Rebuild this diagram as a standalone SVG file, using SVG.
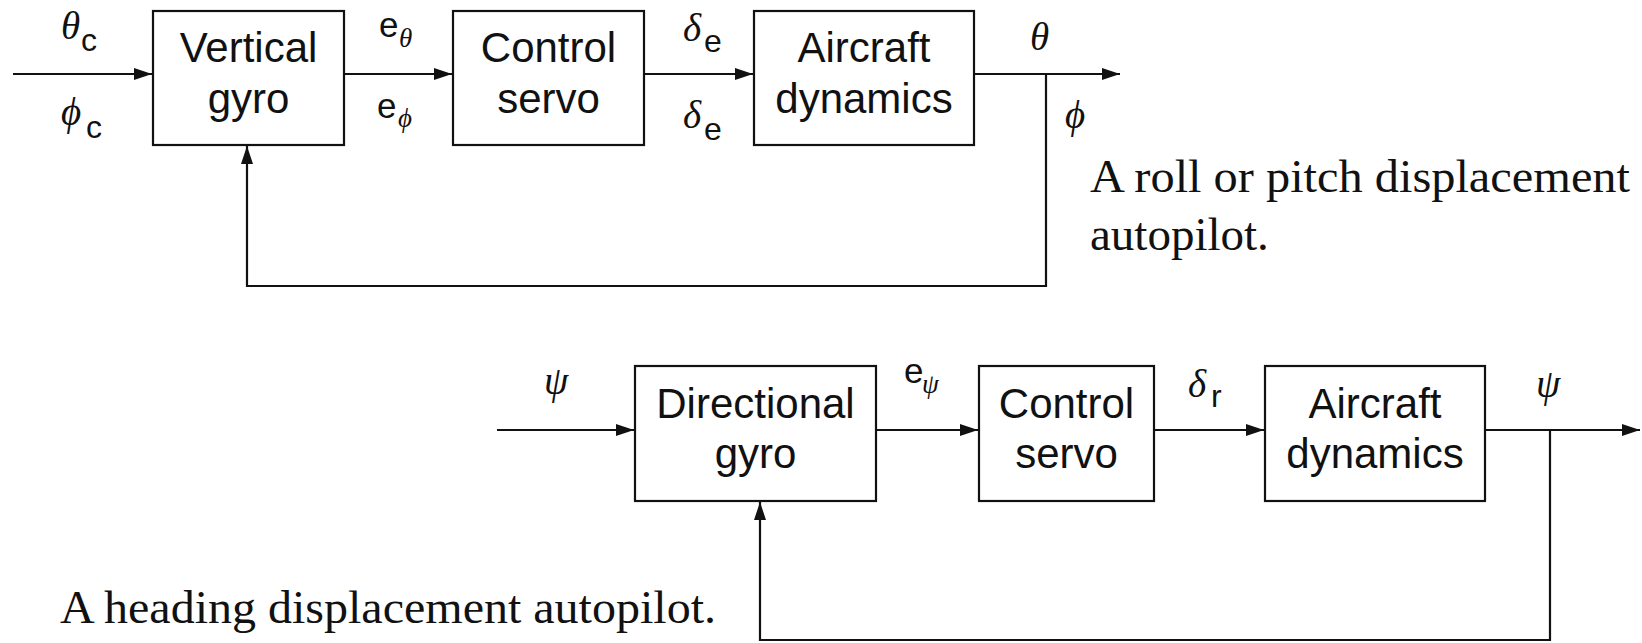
<svg xmlns="http://www.w3.org/2000/svg" width="1642" height="643" viewBox="0 0 1642 643">
<defs>
<style>
.box{fill:#fff;stroke:#111;stroke-width:2.2}
.lbl{font-family:"Liberation Sans",Arial,sans-serif;font-size:42px;fill:#111;text-anchor:middle}
.gk{font-family:"Liberation Serif","Times New Roman",serif;font-style:italic;font-size:39px;fill:#111}
.gks{font-family:"Liberation Serif","Times New Roman",serif;font-style:italic;font-size:27px;fill:#111}
.sub{font-family:"Liberation Sans",Arial,sans-serif;font-size:32px;fill:#111}
.ee{font-family:"Liberation Sans",Arial,sans-serif;font-size:35px;fill:#111}
.cap{font-family:"Liberation Serif","Times New Roman",serif;font-size:47px;fill:#111}
.wire{fill:none;stroke:#111;stroke-width:2.2}
</style>
<marker id="ah" markerUnits="userSpaceOnUse" markerWidth="20" markerHeight="14" refX="18" refY="6" orient="auto">
<path d="M0,0 L18,6 L0,12 z" fill="#111"/>
</marker>
</defs>
<rect width="1642" height="643" fill="#fff"/>

<g id="connectors">
<path class="wire" d="M13,74 H152" marker-end="url(#ah)"/>
<path class="wire" d="M344,74 H452" marker-end="url(#ah)"/>
<path class="wire" d="M644,74 H753" marker-end="url(#ah)"/>
<path class="wire" d="M974,74 H1120" marker-end="url(#ah)"/>
<path class="wire" d="M1046,74 V286 H247 V146" marker-end="url(#ah)"/>
<path class="wire" d="M497,430 H634" marker-end="url(#ah)"/>
<path class="wire" d="M876,430 H978" marker-end="url(#ah)"/>
<path class="wire" d="M1154,430 H1264" marker-end="url(#ah)"/>
<path class="wire" d="M1485,430 H1640" marker-end="url(#ah)"/>
<path class="wire" d="M1550,430 V640 H760 V502" marker-end="url(#ah)"/>
</g>

<g id="vertical-gyro">
<rect class="box" x="153" y="11" width="191" height="134"/>
<text class="lbl" x="248.5" y="62">Vertical</text>
<text class="lbl" x="248.5" y="113">gyro</text>
</g>
<g id="control-servo-1">
<rect class="box" x="453" y="11" width="191" height="134"/>
<text class="lbl" x="548.5" y="62">Control</text>
<text class="lbl" x="548.5" y="113">servo</text>
</g>
<g id="aircraft-dynamics-1">
<rect class="box" x="754" y="11" width="220" height="134"/>
<text class="lbl" x="864" y="62">Aircraft</text>
<text class="lbl" x="864" y="113">dynamics</text>
</g>

<g id="directional-gyro">
<rect class="box" x="635" y="366" width="241" height="135"/>
<text class="lbl" x="755.5" y="418">Directional</text>
<text class="lbl" x="755.5" y="468">gyro</text>
</g>
<g id="control-servo-2">
<rect class="box" x="979" y="366" width="175" height="135"/>
<text class="lbl" x="1066.5" y="418">Control</text>
<text class="lbl" x="1066.5" y="468">servo</text>
</g>
<g id="aircraft-dynamics-2">
<rect class="box" x="1265" y="366" width="220" height="135"/>
<text class="lbl" x="1375" y="418">Aircraft</text>
<text class="lbl" x="1375" y="468">dynamics</text>
</g>

<g id="labels">
<text class="gk" x="61" y="39">θ</text><text class="sub" x="81" y="51">c</text>
<text class="gk" x="61" y="125">ϕ</text><text class="sub" x="86" y="138">c</text>
<text class="ee" x="379" y="37">e</text><text class="gks" x="399" y="47">θ</text>
<text class="ee" x="377" y="118">e</text><text class="gks" x="398" y="127">ϕ</text>
<text class="gk" x="683" y="41">δ</text><text class="sub" x="704" y="52">e</text>
<text class="gk" x="683" y="128">δ</text><text class="sub" x="704" y="140">e</text>
<text class="gk" x="1030" y="50">θ</text>
<text class="gk" x="1065" y="128">ϕ</text>
<text class="gk" x="544" y="394">ψ</text>
<text class="ee" x="904" y="383">e</text><text class="gks" x="922" y="393">ψ</text>
<text class="gk" x="1188" y="397">δ</text><text class="sub" x="1211" y="407">r</text>
<text class="gk" x="1536" y="397">ψ</text>
</g>

<g id="captions">
<text class="cap" x="1090" y="192" textLength="540" lengthAdjust="spacingAndGlyphs">A roll or pitch displacement</text>
<text class="cap" x="1090" y="250">autopilot.</text>
<text class="cap" x="60" y="623" textLength="656" lengthAdjust="spacingAndGlyphs">A heading displacement autopilot.</text>
</g>
</svg>
